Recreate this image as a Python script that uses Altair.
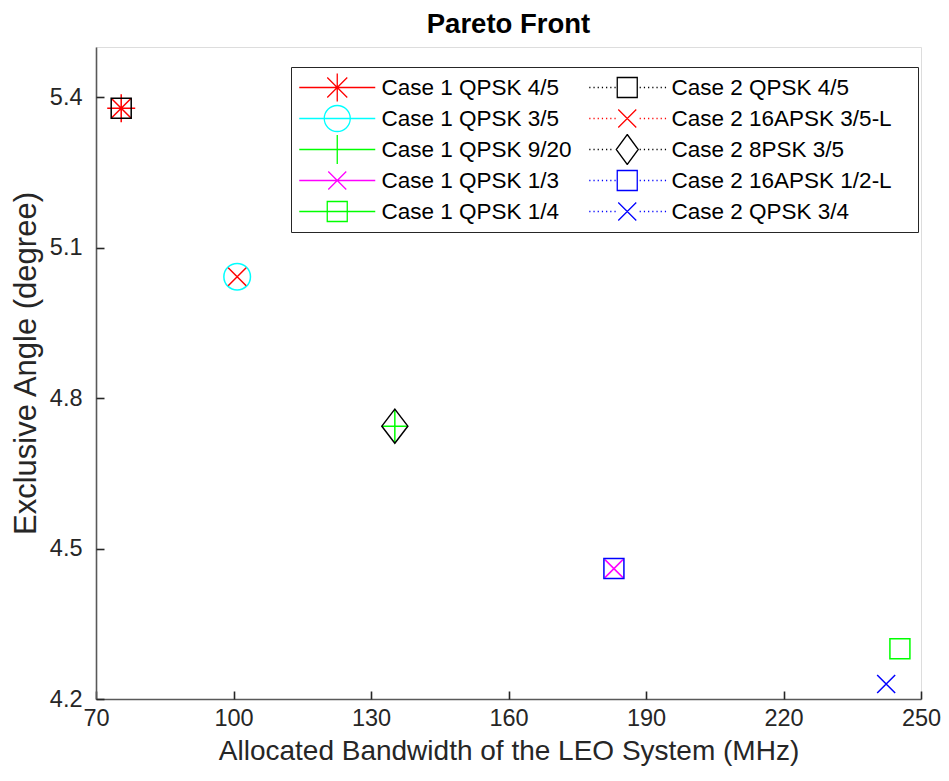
import altair as alt
import pandas as pd
import numpy as np

# ---- data ----
series = ["Case 1 QPSK 4/5", "Case 1 QPSK 3/5", "Case 1 QPSK 9/20", "Case 1 QPSK 1/3", "Case 1 QPSK 1/4",
          "Case 2 QPSK 4/5", "Case 2 16APSK 3/5-L", "Case 2 8PSK 3/5", "Case 2 16APSK 1/2-L", "Case 2 QPSK 3/4"]
bandwidth = [75.5, 100.8, 135.2, 183.0, 245.4, 75.5, 100.8, 135.2, 183.0, 242.4]
angle = [5.378, 5.042, 4.744, 4.460, 4.300, 5.378, 5.042, 4.744, 4.460, 4.230]
colors = ["#FF0000", "#00FFFF", "#00FF00", "#FF00FF", "#00FF00",
          "#000000", "#FF0000", "#000000", "#0000FF", "#0000FF"]
markers = ["asterisk", "circle", "plus", "x", "square", "square", "x", "diamond", "square", "x"]
styles = ["solid"] * 5 + ["dotted"] * 5
x_ticks = [70, 100, 130, 160, 190, 220, 250]
y_ticks = [4.2, 4.5, 4.8, 5.1, 5.4]

# ---- marker glyphs (unit coords, 1 unit = 10 px at size 400) ----
MARK = {
    "asterisk": "M-1.4,0H1.4M0,-1.4V1.4M-1,-1L1,1M-1,1L1,-1",
    "circle": "M1.33,0A1.33,1.33,0,1,1,-1.33,0A1.33,1.33,0,1,1,1.33,0Z",
    "plus": "M-1.3,0H1.3M0,-1.7V1.7",
    "x": "M-0.9,-0.9L0.9,0.9M-0.9,0.9L0.9,-0.9",
    "square": "M-1,-1H1V1H-1Z",
    "diamond": "M0,-1.7L1.3,0L0,1.7L-1.3,0Z",
}
HALF = {"asterisk": 1.4, "circle": 1.3, "plus": 1.2, "x": 0.9, "square": 1.0, "diamond": 1.1}
LMARK = {
    "asterisk": "M-1.4,0H1.4M0,-1.4V1.4M-1,-1L1,1M-1,1L1,-1",
    "circle": "M1.3,0A1.3,1.3,0,1,1,-1.3,0A1.3,1.3,0,1,1,1.3,0Z",
    "plus": "M-1.2,0H1.2M0,-1.45V1.45",
    "x": "M-0.9,-0.9L0.9,0.9M-0.9,0.9L0.9,-0.9",
    "square": "M-1,-1H1V1H-1Z",
    "diamond": "M0,-1.5L1.1,0L0,1.5L-1.1,0Z",
}


def legend_path(marker, style):
    if style == "solid":
        line = "M-3.8,0H3.8"
    else:
        gap = HALF[marker] + 0.1
        xs = [x for x in np.arange(-3.8, 3.81, 0.42) if abs(x) > gap and abs(x + 0.12) > gap]
        line = "".join(f"M{x:.2f},0h0.12" for x in xs)
    return line + LMARK[marker]


df = pd.DataFrame({"series": series, "bandwidth": bandwidth, "angle": angle,
                   "order": list(range(len(series)))})

FONT = "Liberation Sans"
xscale = alt.Scale(domain=[70, 250], nice=False, zero=False)
yscale = alt.Scale(domain=[4.2, 5.5], nice=False, zero=False)

main_x = alt.Axis(values=x_ticks, title="Allocated Bandwidth of the LEO System (MHz)", ticks=False,
                  grid=False, domainColor="#595959", domainWidth=1.6, labelFont=FONT, labelFontSize=23.5,
                  labelColor="#262626", labelPadding=7, titleFont=FONT, titleFontSize=28,
                  titleFontWeight="normal", titleColor="#262626", titlePadding=8, labelFlush=False)
main_y = alt.Axis(values=y_ticks, format=".1f", title="Exclusive Angle (degree)", ticks=False,
                  grid=False, domainColor="#595959", domainWidth=1.6, labelFont=FONT, labelFontSize=23.5,
                  labelColor="#262626", labelPadding=14, titleFont=FONT, titleFontSize=31,
                  titleFontWeight="normal", titleColor="#262626", titlePadding=7, titleY=316)

points = alt.Chart(df).mark_point(filled=False, size=400, strokeWidth=1.5, opacity=1).encode(
    x=alt.X("bandwidth:Q", scale=xscale, axis=main_x),
    y=alt.Y("angle:Q", scale=yscale, axis=main_y),
    color=alt.Color("series:N", scale=alt.Scale(domain=series, range=colors), legend=None),
    shape=alt.Shape("series:N", scale=alt.Scale(domain=series, range=[MARK[m] for m in markers]),
                    legend=None),
    order=alt.Order("order:Q"),
)

leg = alt.Legend(
    orient="none", legendX=195, legendY=20, columns=2,
    title="\u00a0", titleOrient="right", titlePadding=21, titleFontSize=10,
    symbolSize=400, symbolStrokeWidth=1.3, symbolOffset=30, labelOffset=33,
    symbolOpacity=1,
    labelFont=FONT, labelFontSize=22.5, labelColor="#000000",
    rowPadding=0, columnPadding=14, padding=5, clipHeight=31,
    strokeColor="#262626", fillColor="#FFFFFF", cornerRadius=0,
    gridAlign="each", labelLimit=0,
)

legend_layer = alt.Chart(df).transform_filter(alt.datum.bandwidth < 0).mark_point(
    filled=False, size=400, strokeWidth=1.3, opacity=1).encode(
    x=alt.X("bandwidth:Q", scale=xscale,
            axis=alt.Axis(orient="top", offset=-652, values=x_ticks, labels=False, domain=False,
                          tickSize=8, tickWidth=1.6, tickColor="#262626", title=None, grid=False)),
    y=alt.Y("angle:Q", scale=yscale,
            axis=alt.Axis(orient="right", offset=-825, values=y_ticks, labels=False, domain=False,
                          tickSize=8, tickWidth=1.6, tickColor="#262626", title=None, grid=False)),
    color=alt.Color("series:N", scale=alt.Scale(domain=series, range=colors), legend=leg),
    shape=alt.Shape("series:N",
                    scale=alt.Scale(domain=series,
                                    range=[legend_path(m, s) for m, s in zip(markers, styles)]),
                    legend=leg),
)

chart = alt.layer(points, legend_layer).resolve_scale(
    color="independent", shape="independent"
).resolve_axis(x="independent", y="independent").properties(
    width=825, height=652,
    title=alt.TitleParams("Pareto Front", font=FONT, fontSize=27.5, fontWeight="bold",
                          color="#000000", anchor="middle", offset=9),
    autosize=alt.AutoSizeParams(type="none"),
    padding={"left": 96, "top": 47, "right": 28, "bottom": 82},
).configure_view(strokeWidth=0).configure(background="#FFFFFF")

chart.save("out.html", embed_options={"renderer": "svg", "actions": False})
